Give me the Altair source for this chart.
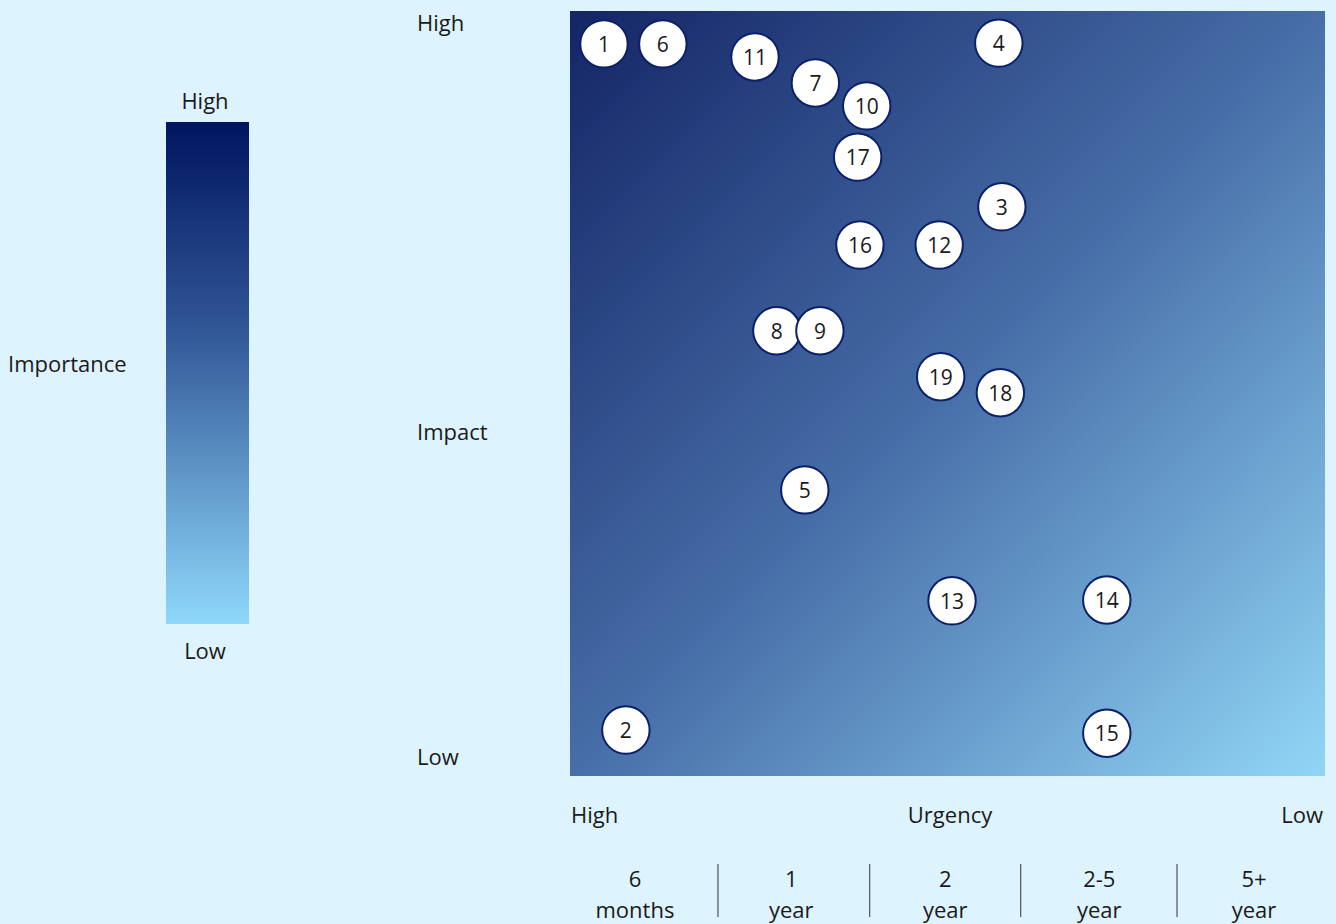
import altair as alt
import pandas as pd

# ---- data ----
ids = [1, 6, 11, 7, 10, 17, 4, 3, 16, 12, 8, 9, 19, 18, 5, 13, 14, 2, 15]
urgency = [0.45, 1.23, 2.45, 3.25, 3.93, 3.81, 5.68, 5.72, 3.84, 4.89, 2.74, 3.31, 4.91, 5.70, 3.11, 5.06, 7.11, 0.74, 7.11]
impact = [9.57, 9.57, 9.40, 9.06, 8.76, 8.09, 9.58, 7.44, 6.94, 6.94, 5.82, 5.82, 5.22, 5.01, 3.74, 2.29, 2.30, 0.60, 0.56]

time_labels = ["6\nmonths", "1\nyear", "2\nyear", "2-5\nyear", "5+\nyear"]
time_pos = [0.86, 2.93, 4.97, 7.01, 9.06]
sep_pos = [1.96, 3.97, 5.97, 8.04]

FONT = "Open Sans"
FS = 22
TXT = "#1a1a1a"
BG = "#ddf3fe"
NAVY = "#0b1f6b"

W, H = 755, 765

pts = pd.DataFrame({"id": ids, "u": urgency, "imp": impact})
xs = alt.Scale(domain=[0, 10], nice=False, zero=False)
ys = alt.Scale(domain=[0, 10], nice=False, zero=False)

# main gradient square
bgdf = pd.DataFrame({"x0": [0], "x1": [10], "y0": [0], "y1": [10]})
main_rect = alt.Chart(bgdf).mark_rect(
    color=alt.Gradient(
        gradient="linear", x1=0, y1=0, x2=1, y2=1,
        stops=[alt.GradientStop(color="#142566", offset=0),
               alt.GradientStop(color="#476ea8", offset=0.5),
               alt.GradientStop(color="#91d6f6", offset=1)],
    )
).encode(
    x=alt.X("x0:Q", scale=xs, axis=None), x2="x1:Q",
    y=alt.Y("y0:Q", scale=ys, axis=None), y2="y1:Q",
)

circles = alt.Chart(pts).mark_circle(size=2250, color="white", opacity=1, stroke=NAVY, strokeWidth=2).encode(
    x=alt.X("u:Q", scale=xs, axis=None),
    y=alt.Y("imp:Q", scale=ys, axis=None),
)
nums = alt.Chart(pts).mark_text(font=FONT, fontSize=21, color=TXT, baseline="middle", dy=2).encode(
    x=alt.X("u:Q", scale=xs, axis=None),
    y=alt.Y("imp:Q", scale=ys, axis=None),
    text="id:N",
)

# legend gradient bar
legdf = pd.DataFrame({"a": [0]})
leg_bar = alt.Chart(legdf).mark_rect(
    color=alt.Gradient(
        gradient="linear", x1=0, y1=0, x2=0, y2=1,
        stops=[alt.GradientStop(color="#001560", offset=0),
               alt.GradientStop(color="#2f5494", offset=0.4),
               alt.GradientStop(color="#8fd8fb", offset=1)],
    )
).encode(x=alt.value(166 - 570), x2=alt.value(249 - 570), y=alt.value(122 - 11), y2=alt.value(624 - 11))


def label(text, x, y, align="left"):
    return alt.Chart(pd.DataFrame({"t": [text]})).mark_text(
        font=FONT, fontSize=FS, color=TXT, align=align, baseline="middle"
    ).encode(x=alt.value(x - 570), y=alt.value(y - 11), text="t:N")


labels = [
    label("High", 205, 102, "center"),
    label("Low", 205, 652, "center"),
    label("Importance", 8, 365),
    label("High", 417, 24),
    label("Impact", 417, 433),
    label("Low", 417, 758),
    label("High", 571, 816),
    label("Urgency", 950, 816, "center"),
    label("Low", 1323, 816, "right"),
]

tdf = pd.DataFrame({"t": time_labels, "p": time_pos})
times = alt.Chart(tdf).mark_text(
    font=FONT, fontSize=FS, color=TXT, align="center", baseline="alphabetic", lineBreak="\n", lineHeight=31
).encode(x=alt.X("p:Q", scale=xs, axis=None), y=alt.value(887 - 11), text="t:N")

sdf = pd.DataFrame({"p": sep_pos})
seps = alt.Chart(sdf).mark_rule(color="#333333", strokeWidth=1).encode(
    x=alt.X("p:Q", scale=xs, axis=None), y=alt.value(864 - 11), y2=alt.value(917 - 11)
)

chart = alt.layer(main_rect, circles, nums, leg_bar, *labels, times, seps).properties(
    width=W, height=H,
    autosize=alt.AutoSizeParams(type="none"),
    padding={"left": 570, "top": 11, "right": 11, "bottom": 148},
    background=BG,
).configure_view(stroke=None)

chart.save("out.html", embed_options={"renderer": "svg", "actions": False})
